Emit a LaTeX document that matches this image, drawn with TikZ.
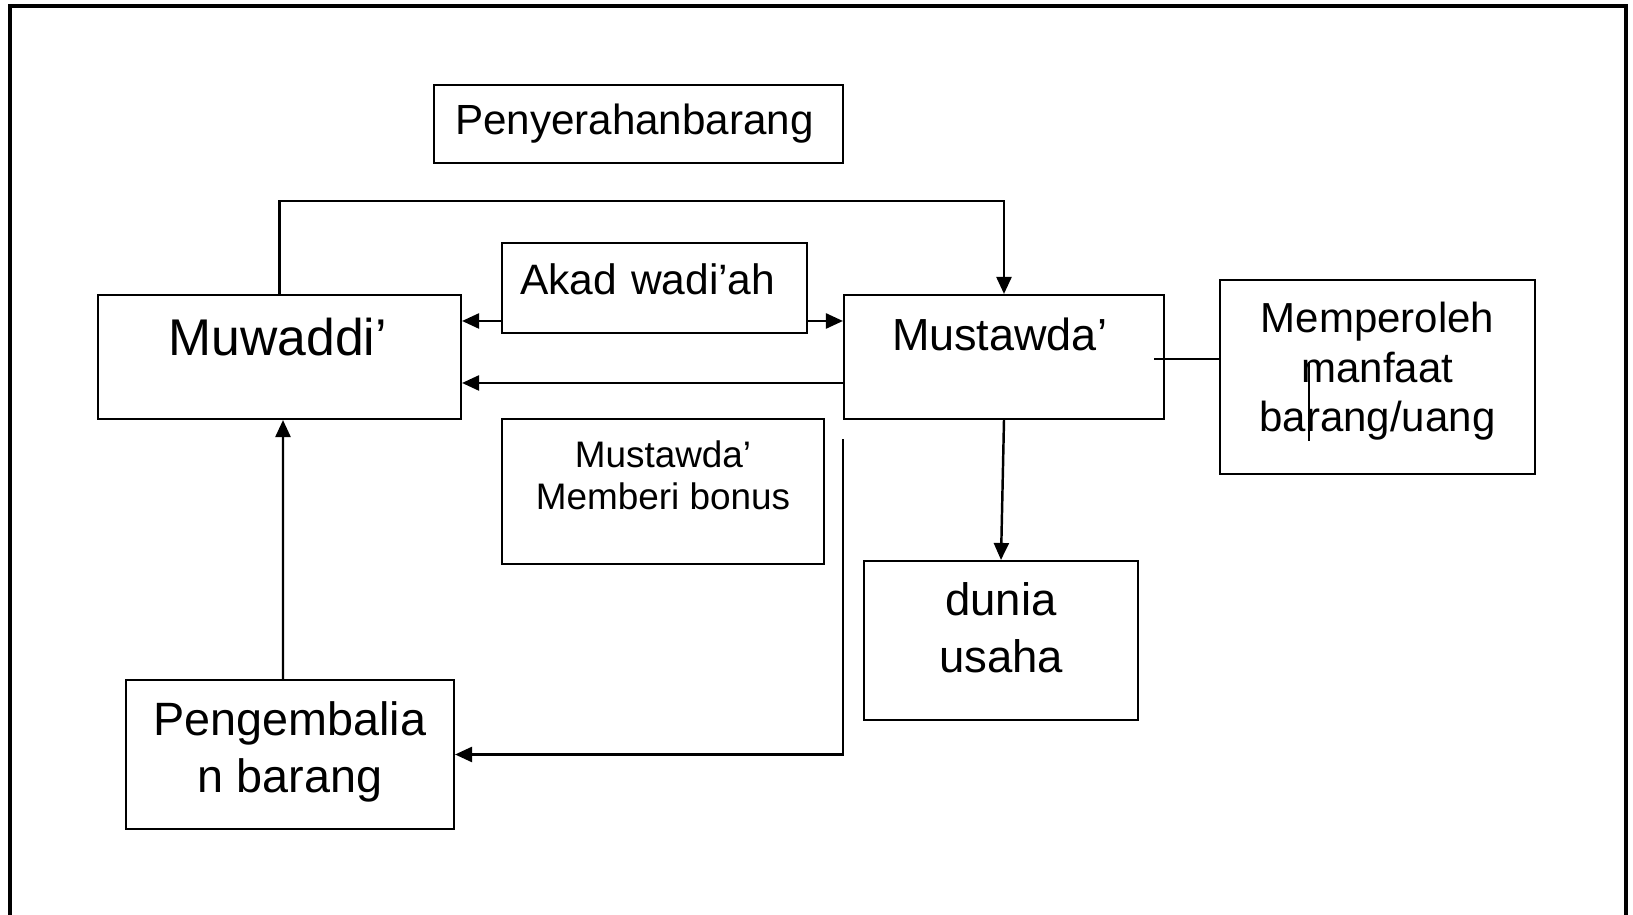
\documentclass[tikz,border=0pt]{standalone}
\usepackage{fontspec}
\setmainfont{Liberation Sans}
\usetikzlibrary{arrows.meta}

\begin{document}
\begin{tikzpicture}[
  >={Triangle[length=1.7mm, width=1.5mm]},
  kotak/.style={draw, line width=0.6pt, inner sep=0pt, align=center, text height=0pt},
  panah/.style={->, line width=0.7pt},
  garis/.style={line width=0.6pt},
]
\useasboundingbox (0,0) rectangle (16.33,9.15);

% ---------- frame ----------
\draw[line width=0.9pt] (0.10,-0.1) -- (0.10,9.09) -- (16.26,9.09) -- (16.26,-0.1);

% ---------- boxes ----------
\node[kotak, minimum width=4.09cm, minimum height=0.78cm, text height=0.22cm, text depth=0pt,
  text width=3.67cm, align=left, font=\fontsize{12}{14}\selectfont] (serah) at (6.385,7.91)
  {Penyerahanbarang};
\node[kotak, minimum width=3.05cm, minimum height=0.90cm, text height=0.14cm, text depth=0pt,
  text width=2.69cm, align=left, font=\fontsize{12.1}{14}\selectfont] (akad) at (6.545,6.27)
  {Akad wadi’ah};
\node[kotak, minimum width=3.63cm, minimum height=1.24cm, text depth=0.02cm,
  text width=2.22cm, align=left, font=\fontsize{14.7}{17}\selectfont] (muwaddi) at (2.795,5.58)
  {Muwaddi’};
\node[kotak, minimum width=3.20cm, minimum height=1.24cm, text depth=0.12cm,
  text width=2.24cm, align=left, font=\fontsize{12.8}{15}\selectfont] (mustawda) at (10.04,5.58)
  {Mustawda’};
\node[kotak, minimum width=3.15cm, minimum height=1.94cm, text height=1.10cm, text depth=0pt,
  font=\fontsize{11.95}{14.2}\selectfont] (manfaat) at (13.775,5.38)
  {Memperoleh\\manfaat\\barang/uang};
\node[kotak, minimum width=3.22cm, minimum height=1.45cm, text height=0.37cm, text depth=0pt,
  font=\fontsize{10.5}{11.95}\selectfont] (bonus) at (6.63,4.235)
  {Mustawda’\\Memberi bonus};
\node[kotak, minimum width=2.74cm, minimum height=1.59cm, text height=0.65cm, text depth=0pt,
  font=\fontsize{12.95}{16.5}\selectfont] (usaha) at (10.01,2.745) {dunia\\usaha};
\node[kotak, minimum width=3.28cm, minimum height=1.49cm, text height=0.77cm, text depth=0pt,
  font=\fontsize{13.3}{16.5}\selectfont] (kembali) at (2.90,1.605) {Pengembalia\\n barang};

% ---------- connectors ----------
\coordinate (belok) at (mustawda.north |- 0,7.14);
\draw[panah] (muwaddi.north) |- (belok) -- (mustawda.north);
\draw[panah] ([yshift=-0.33cm]akad.west) -- ([yshift=-0.33cm]akad.west -| muwaddi.east);
\draw[panah] ([yshift=-0.33cm]akad.east) -- ([yshift=-0.33cm]akad.east -| mustawda.west);
\draw[panah] ([yshift=-0.26cm]mustawda.west) -- ([yshift=-0.26cm]mustawda.west -| muwaddi.east);
\draw[panah] (mustawda.south) -- (usaha.north);
\coordinate (lepas) at ([yshift=-0.19cm]mustawda.south west);
\draw[panah] (lepas) |- (kembali.east);
\draw[panah] ([xshift=-0.07cm]kembali.north) -- ([xshift=0.035cm]muwaddi.south);
\draw[garis] ([xshift=-0.11cm,yshift=-0.02cm]mustawda.east) -- ([yshift=-0.02cm]mustawda.east -| manfaat.west);
\draw[garis] ([xshift=-0.685cm,yshift=0.15cm]manfaat.center) -- ++(0,-0.79);

\end{tikzpicture}
\end{document}
